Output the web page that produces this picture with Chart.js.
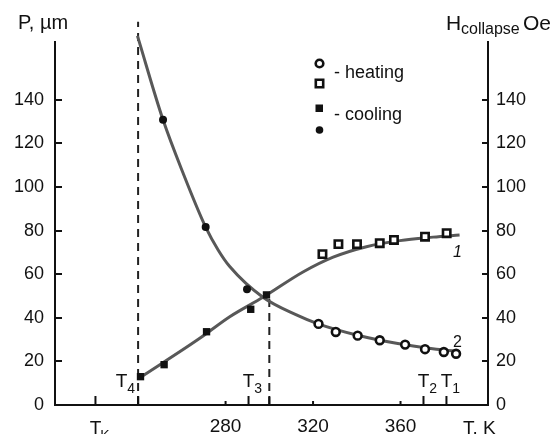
<!DOCTYPE html>
<html><head><meta charset="utf-8">
<script src="https://cdn.jsdelivr.net/npm/chart.js@4.4.1/dist/chart.umd.min.js"></script>
<style>html,body{margin:0;padding:0;background:#fff}#wrap{width:551px;height:434px;position:relative}</style>
</head><body><div id="wrap"><canvas id="c"></canvas></div>
<script>
const FONT = '"Liberation Sans", Arial, Helvetica, sans-serif';

// ---- data ----
// heating (open markers)
const heatSqT   = [324.3, 331.6, 340.1, 350.5, 357.0, 371.2, 381.1];
const heatSqP   = [69.2, 73.8, 73.8, 74.2, 75.7, 77.2, 78.8];
const heatCircT = [322.5, 330.4, 340.4, 350.5, 362.1, 371.2, 379.8, 385.4];
const heatCircH = [37.2, 33.5, 31.8, 29.7, 27.7, 25.6, 24.3, 23.5];
// cooling (filled markers)
const coolSqT   = [241.1, 251.9, 271.3, 291.5, 298.7];
const coolSqP   = [13.0, 18.5, 33.6, 43.9, 50.5];
const coolCircT = [239.7, 251.4, 270.9, 289.8];
const coolCircH = [169.3, 130.8, 81.6, 53.1];
// fitted curves 1 (P) and 2 (H_collapse)
const curve1T = [241.1, 268.2, 281.9, 297.1, 315.4, 329.2, 344.4, 359.7, 374.9, 387.0];
const curve1P = [12.7, 30.6, 40.5, 49.4, 61.0, 67.8, 72.6, 75.4, 77.0, 78.0];
const curve2T = [239.7, 251.4, 260.6, 270.9, 276.6, 281.9, 297.1, 312.4, 322.3, 339.9, 358.1, 376.4, 387.1];
const curve2H = [169.3, 130.8, 106.3, 81.6, 71.1, 63.5, 49.4, 41.3, 37.2, 32.1, 28.3, 25.6, 24.5];
// characteristic temperatures
const markT      = [220.5, 240, 290.5, 370.5, 381];
const markLabels = ['K', '4', '3', '2', '1'];
const dashT      = [240, 300];
const dashTop    = [175.8, 50.5];
// ticks
const xTickValues = [280, 320, 360];
const yTickValues = [0, 20, 40, 60, 80, 100, 120, 140];

const pts = (xs, ys) => xs.map((x, i) => ({x: x, y: ys[i]}));

const overlay = {
  id: 'overlay',
  afterDraw(chart) {
    const ctx = chart.ctx, xs = chart.scales.x, yl = chart.scales.yL;
    const a = chart.chartArea;
    ctx.save();
    ctx.strokeStyle = '#111'; ctx.lineWidth = 2; ctx.lineCap = 'butt';
    const ln = (x1, y1, x2, y2) => { ctx.beginPath(); ctx.moveTo(x1, y1); ctx.lineTo(x2, y2); ctx.stroke(); };
    yTickValues.forEach(v => {
      const py = Math.round(yl.getPixelForValue(v));
      ln(a.left, py, a.left + 7, py);
      ln(a.right - 6, py, a.right, py);
    });
    xTickValues.forEach(v => { const px = xs.getPixelForValue(v); ln(px, a.bottom, px, a.bottom - 4); });
    markT.concat(dashT).forEach(v => { const px = xs.getPixelForValue(v); ln(px, a.bottom, px, a.bottom - 9); });

    ctx.fillStyle = '#111';
    ctx.textBaseline = 'alphabetic';
    // T labels inside plot
    markT.forEach((v, i) => {
      const px = xs.getPixelForValue(v);
      ctx.font = '19px ' + FONT;
      const tw = ctx.measureText('T').width;
      ctx.font = '14px ' + FONT;
      const sw = ctx.measureText(markLabels[i]).width;
      if (markLabels[i] === 'K') {
        ctx.font = '19px ' + FONT; ctx.textAlign = 'left';
        ctx.fillText('T', px - tw / 2, 433.5);
        ctx.font = '14px ' + FONT;
        ctx.fillText('K', px + tw / 2 - 1, 440);
        return;
      }
      let x0 = px - tw / 2;
      if (markLabels[i] === '4') x0 = px - 3 - tw - sw;
      ctx.textAlign = 'left';
      ctx.font = '19px ' + FONT; ctx.fillText('T', x0, 387);
      ctx.font = '14px ' + FONT; ctx.fillText(markLabels[i], x0 + tw, 393);
    });
    // axis unit label
    ctx.font = '19px ' + FONT; ctx.textAlign = 'left';
    ctx.fillText('T. K', 463, 433.5);
    // titles
    ctx.font = '20px ' + FONT;
    ctx.fillText('P, \u00b5m', 18, 28.5);
    ctx.font = '21px ' + FONT;
    ctx.fillText('H', 446, 30);
    ctx.font = '16px ' + FONT;
    ctx.fillText('collapse', 461, 33.5);
    ctx.font = '21px ' + FONT;
    ctx.fillText('Oe', 523, 30);
    // curve numbers
    ctx.font = 'italic 16px ' + FONT;
    ctx.fillText('1', 453, 257);
    ctx.font = '16px ' + FONT;
    ctx.fillText('2', 453, 347);
    // legend
    ctx.lineWidth = 2.6;
    ctx.fillStyle = '#fff';
    ctx.beginPath(); ctx.arc(319.5, 63.5, 3.8, 0, Math.PI * 2); ctx.fill(); ctx.stroke();
    ctx.beginPath(); ctx.rect(315.8, 79.8, 7.4, 7.4); ctx.fill(); ctx.stroke();
    ctx.fillStyle = '#111';
    ctx.fillRect(315.5, 104.5, 7.5, 7.5);
    ctx.beginPath(); ctx.arc(319.5, 130, 3.8, 0, Math.PI * 2); ctx.fill();
    ctx.font = '18px ' + FONT;
    ctx.fillText('- heating', 334, 78);
    ctx.fillText('- cooling', 334, 119.5);
    ctx.restore();
  }
};

const curveColor = '#585858';
const base = {yAxisID: 'yL', xAxisID: 'x', clip: false};
const chart = new Chart(document.getElementById('c'), {
  type: 'scatter',
  data: {
    datasets: [
      {...base, data: pts(heatCircT, heatCircH), pointStyle: 'circle', pointRadius: 3.9, borderWidth: 2.6, borderColor: '#111', backgroundColor: '#fff', showLine: false},
      {...base, data: pts(heatSqT, heatSqP), pointStyle: 'rect', pointRadius: 5.2, borderWidth: 2.6, borderColor: '#111', backgroundColor: '#fff', showLine: false},
      {...base, data: pts(coolCircT, coolCircH), pointStyle: 'circle', pointRadius: 4, borderWidth: 0, backgroundColor: '#111', showLine: false},
      {...base, data: pts(coolSqT, coolSqP), pointStyle: 'rect', pointRadius: 5.2, borderWidth: 0, backgroundColor: '#111', showLine: false},
      {...base, data: pts(curve1T, curve1P), showLine: true, borderColor: curveColor, borderWidth: 3, pointRadius: 0, cubicInterpolationMode: 'monotone'},
      {...base, data: pts(curve2T, curve2H), showLine: true, borderColor: curveColor, borderWidth: 3, pointRadius: 0, cubicInterpolationMode: 'monotone'},
      {...base, data: [{x: dashT[0], y: 0}, {x: dashT[0], y: dashTop[0]}], showLine: true, borderColor: '#222', borderWidth: 2, borderDash: [8, 6], pointRadius: 0},
      {...base, data: [{x: dashT[1], y: 0}, {x: dashT[1], y: dashTop[1]}], showLine: true, borderColor: '#222', borderWidth: 2, borderDash: [8, 6], pointRadius: 0}
    ]
  },
  options: {
    responsive: true, maintainAspectRatio: false, animation: false,
    devicePixelRatio: 1,
    layout: {padding: {top: 42, left: 0, right: 0, bottom: 0}},
    plugins: {legend: {display: false}, tooltip: {enabled: false}},
    scales: {
      x: {
        type: 'linear', position: 'bottom', min: 202, max: 400,
        grid: {display: false, drawTicks: false},
        border: {display: true, color: '#111', width: 2},
        afterBuildTicks: s => { s.ticks = xTickValues.map(v => ({value: v})); },
        afterFit: s => { s.height = 29; },
        ticks: {color: '#111', font: {family: FONT, size: 19}, padding: 10, maxRotation: 0, autoSkip: false}
      },
      yL: {
        type: 'linear', position: 'left', min: 0, max: 166.5,
        grid: {display: false, drawTicks: false},
        border: {display: true, color: '#111', width: 2},
        afterBuildTicks: s => { s.ticks = yTickValues.map(v => ({value: v})); },
        afterFit: s => { s.width = 55; },
        ticks: {color: '#111', font: {family: FONT, size: 18}, padding: 11}
      },
      yR: {
        type: 'linear', position: 'right', min: 0, max: 166.5,
        grid: {display: false, drawTicks: false},
        border: {display: true, color: '#111', width: 2},
        afterBuildTicks: s => { s.ticks = yTickValues.map(v => ({value: v})); },
        afterFit: s => { s.width = 63; },
        ticks: {color: '#111', font: {family: FONT, size: 18}, padding: 8}
      }
    }
  },
  plugins: [overlay]
});
</script>
</body></html>
